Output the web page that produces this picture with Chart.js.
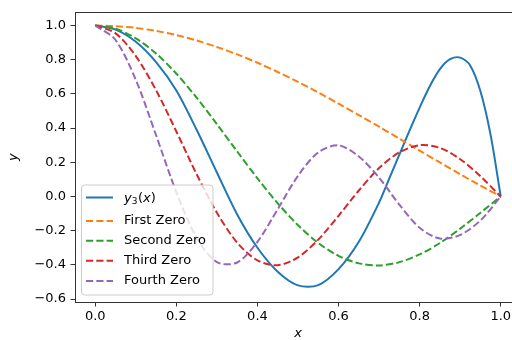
<!DOCTYPE html>
<html>
<head>
<meta charset="utf-8">
<script src="https://cdn.jsdelivr.net/npm/chart.js@4.4.0/dist/chart.umd.min.js"></script>
<style>
  html, body { margin: 0; padding: 0; background: #fff; overflow: hidden; }
  #wrap { width: 512px; height: 340px; overflow: hidden; }
</style>
</head>
<body>
<div id="wrap"><canvas id="chart" width="522" height="340"></canvas></div>
<script>
// values
const seriesNames = ["y3(x)", "First Zero", "Second Zero", "Third Zero", "Fourth Zero"];
const seriesColors = ["#1f77b4", "#ff7f0e", "#2ca02c", "#d62728", "#9467bd"];

const xBlue = [0, 0.05, 0.1, 0.15, 0.2, 0.25, 0.3, 0.35, 0.4, 0.45, 0.5, 0.55, 0.6, 0.65, 0.7, 0.725, 0.75, 0.775, 0.8, 0.825, 0.85, 0.875, 0.9, 0.925, 0.95, 0.975, 1.0];
const yBlue = [1.0, 0.976, 0.905, 0.786, 0.62, 0.39, 0.14, -0.105, -0.30, -0.44, -0.52, -0.518, -0.425, -0.265, -0.035, 0.105, 0.245, 0.385, 0.52, 0.645, 0.745, 0.803, 0.812, 0.765, 0.615, 0.36, 0.0];

const xGrid = [0, 0.05, 0.1, 0.15, 0.2, 0.25, 0.3, 0.35, 0.4, 0.45, 0.5, 0.55, 0.6, 0.65, 0.7, 0.75, 0.8, 0.85, 0.9, 0.95, 1.0];
const yFirst  = [1.0, 0.996, 0.986, 0.968, 0.944, 0.912, 0.874, 0.831, 0.782, 0.728, 0.670, 0.608, 0.543, 0.476, 0.408, 0.338, 0.268, 0.199, 0.130, 0.064, 0.0];
const ySecond = [1.0, 0.981, 0.925, 0.836, 0.718, 0.578, 0.423, 0.263, 0.106, -0.040, -0.168, -0.272, -0.347, -0.391, -0.403, -0.384, -0.339, -0.272, -0.188, -0.095, 0.0];
const yThird  = [1.0, 0.954, 0.821, 0.621, 0.380, 0.130, -0.095, -0.270, -0.374, -0.402, -0.356, -0.252, -0.113, 0.035, 0.166, 0.258, 0.300, 0.284, 0.218, 0.118, 0.0];
const yFourth = [1.0, 0.915, 0.682, 0.358, 0.025, -0.241, -0.384, -0.386, -0.265, -0.074, 0.121, 0.258, 0.299, 0.234, 0.110, -0.048, -0.183, -0.246, -0.225, -0.140, 0.0];

const xTicks = [0, 0.2, 0.4, 0.6, 0.8, 1.0];
const yTicks = [-0.6, -0.4, -0.2, 0.0, 0.2, 0.4, 0.6, 0.8, 1.0];

const FONT = "'DejaVu Sans', sans-serif";
const SPINE = "#333";

function pts(xs, ys) {
  return xs.map((x, i) => ({ x: x, y: ys[i] }));
}

function fmt(v) {
  const s = Math.abs(v).toFixed(1);
  return v < -1e-9 ? "\u2212" + s : s;
}

const allY = [yBlue, yFirst, ySecond, yThird, yFourth];
const datasets = allY.map((ys, i) => ({
  label: seriesNames[i],
  data: pts(i === 0 ? xBlue : xGrid, ys),
  borderColor: seriesColors[i],
  borderWidth: 2,
  borderDash: i === 0 ? [] : [7.2, 3.1],
  pointRadius: 0,
  fill: false,
  tension: 0.3,
  order: allY.length - i
}));

// top spine (right one falls outside the crop)
const frame = {
  id: "frame",
  afterDatasetsDraw(chart) {
    const a = chart.chartArea, ctx = chart.ctx;
    ctx.save();
    ctx.strokeStyle = SPINE;
    ctx.lineWidth = 1;
    ctx.beginPath();
    ctx.moveTo(a.left, Math.round(a.top) + 0.5);
    ctx.lineTo(a.right, Math.round(a.top) + 0.5);
    ctx.lineTo(a.right, a.bottom);
    ctx.stroke();
    ctx.restore();
  }
};

function drawMathLabel(ctx, x, y) {
  // y_3(x) like matplotlib mathtext
  let cx = x;
  ctx.font = "italic 13px " + FONT;
  ctx.fillText("y", cx, y); cx += ctx.measureText("y").width;
  ctx.font = "9px " + FONT;
  ctx.fillText("3", cx, y + 3); cx += ctx.measureText("3").width + 0.5;
  ctx.font = "13px " + FONT;
  ctx.fillText("(", cx, y); cx += ctx.measureText("(").width;
  ctx.font = "italic 13px " + FONT;
  ctx.fillText("x", cx, y); cx += ctx.measureText("x").width;
  ctx.font = "13px " + FONT;
  ctx.fillText(")", cx, y);
}

const boxLegend = {
  id: "boxLegend",
  afterDatasetsDraw(chart) {
    const a = chart.chartArea, ctx = chart.ctx;
    const bx = a.left + 6.5, bw = 131.5, bh = 110;
    const by = a.bottom - 7 - bh;
    ctx.save();
    ctx.beginPath();
    ctx.roundRect(bx, by, bw, bh, 3);
    ctx.fillStyle = "rgba(255,255,255,0.8)";
    ctx.fill();
    ctx.strokeStyle = "#cccccc";
    ctx.lineWidth = 1;
    ctx.stroke();
    const rows = [by + 12.5, by + 36, by + 55.7, by + 75.7, by + 96];
    chart.data.datasets.forEach((ds, i) => {
      const ry = rows[i];
      ctx.beginPath();
      ctx.setLineDash(ds.borderDash);
      ctx.strokeStyle = ds.borderColor;
      ctx.lineWidth = 2;
      ctx.moveTo(bx + 4.5, ry);
      ctx.lineTo(bx + 31.5, ry);
      ctx.stroke();
      ctx.setLineDash([]);
      ctx.fillStyle = "#000";
      ctx.textBaseline = "middle";
      ctx.textAlign = "left";
      if (i === 0) {
        drawMathLabel(ctx, bx + 42.5, ry + 1.5);
      } else {
        ctx.font = "13px " + FONT;
        ctx.fillText(ds.label, bx + 42.5, ry);
      }
    });
    ctx.restore();
  }
};

new Chart(document.getElementById("chart"), {
  type: "line",
  data: { datasets },
  plugins: [frame, boxLegend],
  options: {
    responsive: false,
    animation: false,
    layout: { padding: { top: 10, right: 1, left: 0, bottom: 0 } },
    plugins: { legend: { display: false }, tooltip: { enabled: false } },
    scales: {
      x: {
        type: "linear",
        min: -0.05,
        max: 1.05,
        afterBuildTicks: s => { s.ticks = xTicks.map(v => ({ value: v })); },
        afterFit: s => { s.height = 38; },
        grid: { drawOnChartArea: false, drawTicks: true, tickLength: 4.5, tickWidth: 1, tickColor: SPINE },
        border: { display: true, color: SPINE, width: 1 },
        ticks: { color: "#000", padding: 2, maxRotation: 0, font: { family: FONT, size: 13 }, callback: v => fmt(v) },
        title: { display: true, text: "x", color: "#000", padding: { top: 0, bottom: 0 }, font: { family: FONT, size: 13, style: "italic", lineHeight: 1 } }
      },
      y: {
        type: "linear",
        min: -0.617,
        max: 1.077,
        afterBuildTicks: s => { s.ticks = yTicks.map(v => ({ value: v })); },
        afterFit: s => { s.width = 75; },
        grid: { drawOnChartArea: false, drawTicks: true, tickLength: 4.5, tickWidth: 1, tickColor: SPINE },
        border: { display: true, color: SPINE, width: 1 },
        ticks: { color: "#000", padding: 4.5, font: { family: FONT, size: 13 }, callback: v => fmt(v) },
        title: { display: true, text: "y", color: "#000", padding: { top: 7.5, bottom: 0 }, font: { family: FONT, size: 13, style: "italic", lineHeight: 1 } }
      }
    }
  }
});
</script>
</body>
</html>
